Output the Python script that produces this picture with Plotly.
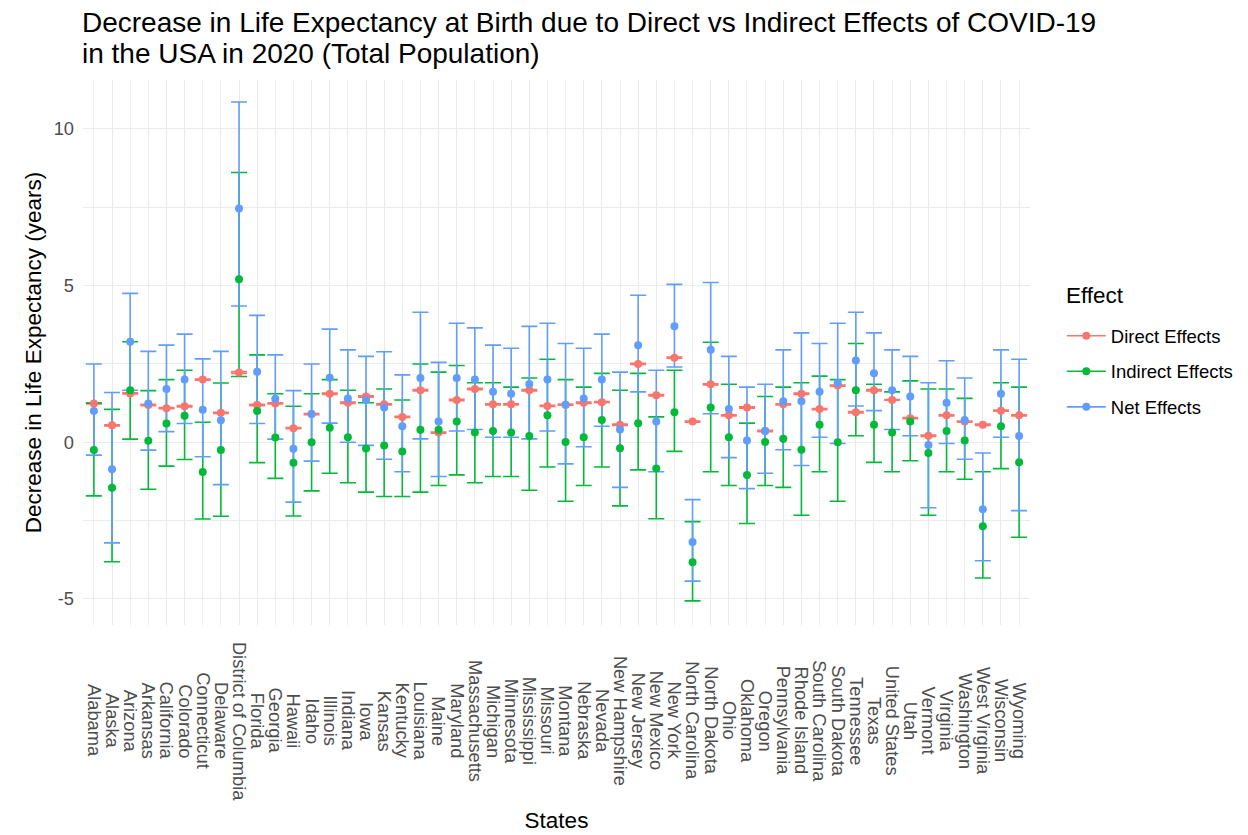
import plotly.graph_objects as go

states = ["Alabama", "Alaska", "Arizona", "Arkansas", "California", "Colorado", "Connecticut",
          "Delaware", "District of Columbia", "Florida", "Georgia", "Hawaii", "Idaho", "Illinois",
          "Indiana", "Iowa", "Kansas", "Kentucky", "Louisiana", "Maine", "Maryland",
          "Massachusetts", "Michigan", "Minnesota", "Mississippi", "Missouri", "Montana",
          "Nebraska", "Nevada", "New Hampshire", "New Jersey", "New Mexico", "New York",
          "North Carolina", "North Dakota", "Ohio", "Oklahoma", "Oregon", "Pennsylvania",
          "Rhode Island", "South Carolina", "South Dakota", "Tennessee", "Texas", "United States",
          "Utah", "Vermont", "Virginia", "Washington", "West Virginia", "Wisconsin", "Wyoming"]

direct = [1.24, 0.54, 1.56, 1.19, 1.09, 1.15, 2.00, 0.94, 2.23, 1.19, 1.24, 0.45, 0.90, 1.55,
          1.26, 1.46, 1.21, 0.81, 1.66, 0.31, 1.35, 1.70, 1.21, 1.21, 1.66, 1.16, 1.20,
          1.26, 1.28, 0.56, 2.50, 1.50, 2.70, 0.66, 1.85, 0.86, 1.11, 0.36, 1.21,
          1.55, 1.06, 1.81, 0.96, 1.66, 1.35, 0.77, 0.21, 0.86, 0.66, 0.56, 1.01, 0.86]
direct_lo = [1.22, 0.52, 1.54, 1.17, 1.07, 1.13, 1.98, 0.92, 2.20, 1.17, 1.22, 0.43, 0.88, 1.53,
             1.24, 1.44, 1.19, 0.79, 1.64, 0.29, 1.33, 1.68, 1.19, 1.19, 1.64, 1.14, 1.18,
             1.24, 1.26, 0.54, 2.48, 1.48, 2.68, 0.64, 1.83, 0.84, 1.09, 0.34, 1.19,
             1.53, 1.04, 1.79, 0.94, 1.64, 1.34, 0.75, 0.19, 0.84, 0.64, 0.54, 0.99, 0.84]
direct_hi = [1.26, 0.56, 1.58, 1.21, 1.11, 1.17, 2.02, 0.96, 2.26, 1.21, 1.26, 0.47, 0.92, 1.57,
             1.28, 1.48, 1.23, 0.83, 1.68, 0.33, 1.37, 1.72, 1.23, 1.23, 1.68, 1.18, 1.22,
             1.28, 1.30, 0.58, 2.52, 1.52, 2.72, 0.68, 1.87, 0.88, 1.13, 0.38, 1.23,
             1.57, 1.08, 1.83, 0.98, 1.68, 1.36, 0.79, 0.23, 0.88, 0.68, 0.58, 1.03, 0.88]

indirect = [-0.25, -1.45, 1.66, 0.05, 0.60, 0.85, -0.95, -0.25, 5.20, 1.00, 0.15, -0.65, 0.00, 0.46,
            0.16, -0.20, -0.10, -0.29, 0.40, 0.40, 0.66, 0.31, 0.36, 0.31, 0.20, 0.86, 0.01,
            0.16, 0.71, -0.19, 0.61, -0.84, 0.96, -3.83, 1.11, 0.16, -1.04, 0.01, 0.11,
            -0.24, 0.56, 0.00, 1.66, 0.56, 0.31, 0.66, -0.34, 0.36, 0.06, -2.68, 0.51, -0.64]
indirect_lo = [-1.71, -3.81, 0.10, -1.50, -0.76, -0.55, -2.45, -2.36, 2.10, -0.65, -1.15, -2.35, -1.55, -0.99,
               -1.29, -1.59, -1.73, -1.73, -1.59, -1.38, -1.04, -1.29, -1.09, -1.09, -1.53, -0.79, -1.88,
               -1.38, -0.79, -2.03, -0.88, -2.44, -0.29, -5.06, -0.94, -1.38, -2.59, -1.38, -1.44,
               -2.33, -0.94, -1.88, 0.21, -0.64, -0.94, -0.59, -2.33, -0.94, -1.18, -4.33, -0.84, -3.03]
indirect_hi = [1.25, 1.05, 3.21, 1.65, 2.00, 2.30, 0.64, 1.89, 8.61, 2.79, 1.55, 1.15, 1.55, 2.00,
               1.66, 1.26, 1.70, 1.35, 2.50, 2.24, 2.45, 1.90, 1.90, 1.76, 2.05, 2.65, 2.00,
               1.76, 2.20, 1.66, 2.20, 0.81, 2.30, -2.53, 3.19, 1.85, 0.61, 1.46, 1.76,
               1.90, 2.11, 2.00, 3.15, 1.85, 1.61, 1.96, 1.70, 1.70, 1.40, -0.94, 1.90, 1.76]

net = [1.00, -0.86, 3.21, 1.24, 1.70, 2.00, 1.04, 0.70, 7.46, 2.25, 1.39, -0.21, 0.90, 2.06,
       1.40, 1.35, 1.11, 0.51, 2.05, 0.66, 2.05, 2.00, 1.61, 1.55, 1.86, 2.00, 1.20,
       1.40, 2.00, 0.41, 3.10, 0.66, 3.70, -3.18, 2.95, 1.06, 0.06, 0.36, 1.31,
       1.31, 1.61, 1.90, 2.61, 2.20, 1.66, 1.46, -0.09, 1.26, 0.71, -2.14, 1.55, 0.20]
net_lo = [-0.41, -3.21, 1.66, -0.25, 0.34, 0.60, -0.46, -1.35, 4.35, 0.60, 0.10, -1.91, -0.60, 0.61,
          0.00, -0.10, -0.54, -0.94, 0.11, -1.09, 0.36, 0.41, 0.16, 0.16, 0.11, 0.36, -0.69,
          -0.14, 0.51, -1.44, 1.61, -0.94, 2.40, -4.43, 0.91, -0.49, -1.48, -0.99, -0.24,
          -0.74, 0.16, -0.04, 1.16, 1.01, 0.41, 0.21, -2.09, -0.04, -0.54, -3.78, 0.16, -2.18]
net_hi = [2.50, 1.59, 4.75, 2.90, 3.10, 3.45, 2.66, 2.90, 10.86, 4.05, 2.79, 1.65, 2.50, 3.61,
          2.95, 2.74, 2.89, 2.15, 4.15, 2.55, 3.80, 3.65, 3.10, 3.00, 3.70, 3.80, 3.15,
          3.00, 3.45, 2.24, 4.69, 2.30, 5.04, -1.83, 5.10, 2.74, 1.76, 1.85, 2.95,
          3.49, 3.15, 3.80, 4.15, 3.49, 2.95, 2.74, 1.90, 2.60, 2.05, -0.34, 2.95, 2.65]

effects = ["Direct Effects", "Indirect Effects", "Net Effects"]
colors = ["#F8766D", "#00BA38", "#619CFF"]
y_tickvals = [-5, 0, 5, 10]
y_ticktext = ["-5", "0", "5", "10"]
title_lines = ["Decrease in Life Expectancy at Birth due to Direct vs Indirect Effects of COVID-19",
               "in the USA in 2020 (Total Population)"]

FONT = "Liberation Sans, Arial, sans-serif"
TITLE_SIZE = 28.0
series = [(direct, direct_lo, direct_hi), (indirect, indirect_lo, indirect_hi), (net, net_lo, net_hi)]

fig = go.Figure()
# error bars first
for (vals, lo, hi), col, name in zip(series, colors, effects):
    fig.add_trace(go.Scatter(
        x=states, y=vals, mode="markers", name=name, showlegend=False,
        marker=dict(size=8, color=col, opacity=0),
        error_y=dict(type="data", symmetric=False,
                     array=[h - v for h, v in zip(hi, vals)],
                     arrayminus=[v - l for v, l in zip(vals, lo)],
                     color=col, thickness=1.6, width=8),
        hoverinfo="skip"))
# points on top
for (vals, lo, hi), col, name in zip(series, colors, effects):
    fig.add_trace(go.Scatter(
        x=states, y=vals, mode="markers", name=name, showlegend=False,
        marker=dict(size=8, color=col)))
# legend keys
for col, name in zip(colors, effects):
    fig.add_trace(go.Scatter(
        x=[None], y=[None], mode="lines+markers", name=name, legendgroup=name,
        line=dict(color=col, width=1.6), marker=dict(size=8, color=col)))

# x tick labels, centred like ggplot's angle=-90 labels
for s in states:
    fig.add_annotation(x=s, xref="x", y=-0.176, yref="paper", text=s, textangle=90,
                       showarrow=False, xanchor="center", yanchor="middle",
                       font=dict(family=FONT, size=18.3, color="#4D4D4D"))

# second title line (ggplot uses a tighter line height than plotly)
fig.add_annotation(x=-0.003, xref="paper", xanchor="left", y=1.0495, yref="paper", yanchor="middle",
                   text=title_lines[1], showarrow=False,
                   font=dict(family=FONT, size=TITLE_SIZE, color="black"))

# legend title
fig.add_annotation(x=(1064 - 83.4) / 946.8, xref="paper", xanchor="left",
                   y=(625 - 295) / 545, yref="paper", yanchor="middle",
                   text="Effect", showarrow=False,
                   font=dict(family=FONT, size=22.5, color="black"))

fig.update_layout(
    width=1248, height=835,
    margin=dict(l=83.4, r=217.8, t=80, b=210, autoexpand=False),
    paper_bgcolor="white", plot_bgcolor="white",
    font=dict(family=FONT, color="black"),
    title=dict(text=title_lines[0],
               x=82 / 1248, xref="container", xanchor="left",
               y=1 - 22.5 / 835, yref="container", yanchor="middle",
               font=dict(family=FONT, size=TITLE_SIZE, color="black")),
    xaxis=dict(type="category", categoryorder="array", categoryarray=states,
               range=[-0.6, len(states) - 0.4], showticklabels=False, ticks="",
               showgrid=True, gridcolor="#EBEBEB", gridwidth=1.1, zeroline=False,
               showline=False,
               title=dict(text="States", standoff=187, font=dict(family=FONT, size=22.5, color="black"))),
    yaxis=dict(range=[-5.83, 11.56], tickmode="array", tickvals=y_tickvals, ticktext=y_ticktext,
               ticks="", ticklabelstandoff=8,
               tickfont=dict(family=FONT, size=18.3, color="#4D4D4D"),
               showgrid=True, gridcolor="#EBEBEB", gridwidth=1.1, zeroline=False, showline=False,
               minor=dict(tickmode="array", tickvals=[-2.5, 2.5, 7.5], showgrid=True,
                          gridcolor="#EBEBEB", gridwidth=0.6),
               title=dict(text="Decrease in Life Expectancy (years)", standoff=5,
                          font=dict(family=FONT, size=22.5, color="black"))),
    legend=dict(x=(1062 - 83.4) / 946.8, xanchor="left", y=(625 - 371.7) / 545, yanchor="middle",
                font=dict(family=FONT, size=18.5, color="black"), tracegroupgap=8.5,
                bgcolor="rgba(0,0,0,0)", itemwidth=39),
)

fig.write_html("out.html")
